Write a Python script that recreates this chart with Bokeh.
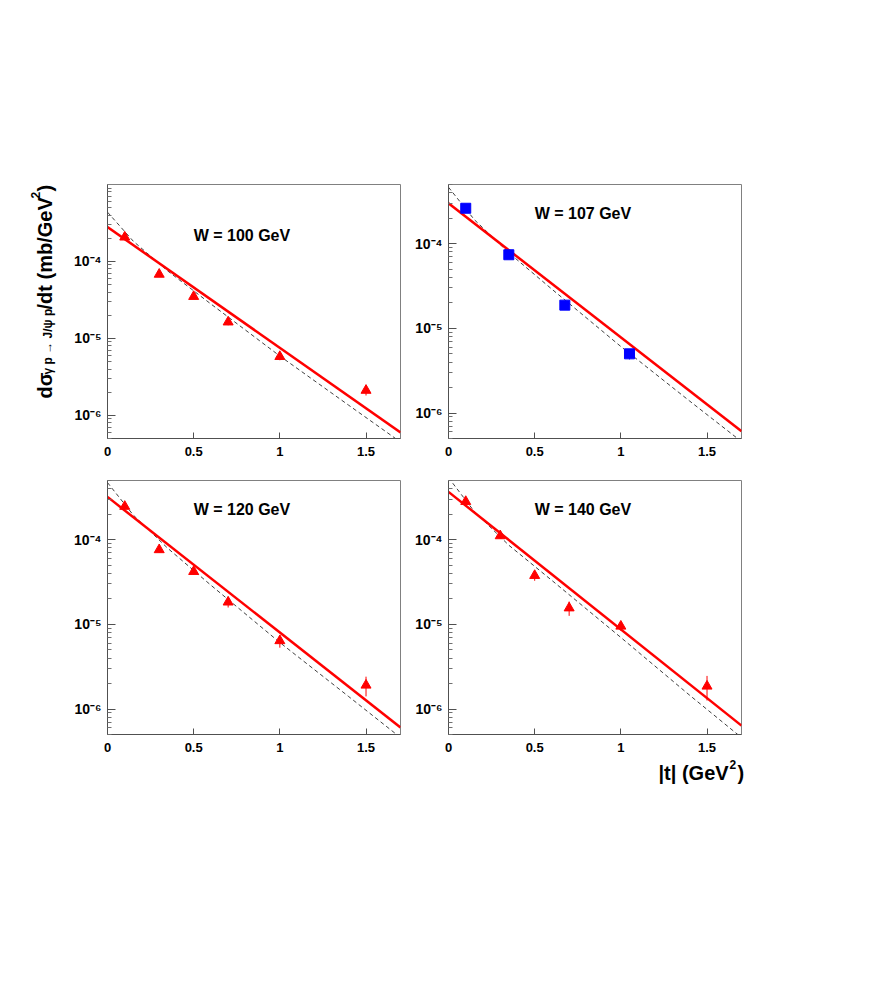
from bokeh.plotting import figure
from bokeh.layouts import column, row
from bokeh.models import FixedTicker, Label, Range1d
from bokeh.embed import file_html
from bokeh.resources import INLINE

# ---------------- data ----------------
t_tri = [0.1, 0.3, 0.5, 0.7, 1.0, 1.5]
t_sq = [0.1, 0.35, 0.675, 1.05]

w100_vals = [2.07e-4, 6.8e-5, 3.5e-5, 1.63e-5, 5.8e-6, 2.11e-6]
w100_errs = [1.5e-5, 5e-6, 2.5e-6, 1.5e-6, 6e-7, 3e-7]
w107_vals = [2.62e-4, 7.4e-5, 1.88e-5, 5.0e-6]
w107_errs = [1.2e-5, 4e-6, 1.8e-6, 7e-7]
w120_vals = [2.47e-4, 7.6e-5, 4.2e-5, 1.83e-5, 6.4e-6, 1.91e-6]
w120_errs = [1.8e-5, 6e-6, 3.5e-6, 2.5e-6, 1.1e-6, 5e-7]
w140_vals = [2.82e-4, 1.11e-4, 3.77e-5, 1.56e-5, 9.5e-6, 1.86e-6]
w140_errs = [2.0e-5, 9e-6, 5e-6, 3e-6, 1.1e-6, 6e-7]

# solid (red) straight fits: values at the two ends of the |t| range
fit_t = [0.0, 1.7]
red_w100 = [2.8e-4, 6.0e-7]
red_w107 = [3.0e-4, 6.1e-7]
red_w120 = [3.2e-4, 6.05e-7]
red_w140 = [3.67e-4, 6.37e-7]

# dashed (curved) model: values read at these |t|
dash_t = [0.0, 0.15, 0.35, 0.6, 1.0, 1.4, 1.7]
dash_w100 = [4.37e-4, 1.83e-4, 7.5e-5, 2.8e-5, 5.9e-6, 1.35e-6, 4.5e-7]
dash_w107 = [4.64e-4, 1.92e-4, 7.8e-5, 2.9e-5, 6.1e-6, 1.38e-6, 4.6e-7]
dash_w120 = [4.72e-4, 1.95e-4, 7.9e-5, 2.9e-5, 6.1e-6, 1.40e-6, 4.6e-7]
dash_w140 = [5.4e-4, 2.15e-4, 8.6e-5, 3.3e-5, 7.0e-6, 1.45e-6, 4.6e-7]

panel_titles = ["W = 100 GeV", "W = 107 GeV", "W = 120 GeV", "W = 140 GeV"]
title_pos_t = [0.5, 0.5, 0.5, 0.5]
title_pos_y = [2.2e-4, 2.25e-4, 2.3e-4, 2.25e-4]

y_ranges = [(5e-7, 1e-3), (5e-7, 5e-4), (5e-7, 5e-4), (5e-7, 5e-4)]
x_ticks = [0, 0.5, 1, 1.5]
x_tick_labels = ["0", "0.5", "1", "1.5"]
y_ticks = [1e-6, 1e-5, 1e-4]
y_tick_labels = ["10⁻⁶", "10⁻⁵", "10⁻⁴"]

# axis titles split in pieces: (text, font size, x, y) in strip pixels
ytitle_pieces = [("dσ", "20px", 44, 360),
                 ("γ p → J/ψ p", "12px", 47, 384),
                 ("/dt (mb/GeV", "20px", 44, 449),
                 ("2", "12px", 35, 560),
                 (")", "20px", 44, 567)]
xtitle_pieces = [("|t| (GeV", "20px", 658, 26),
                 ("2", "12px", 729, 34),
                 (")", "20px", 737, 26)]

FONT = "Liberation Sans"
RED = "#ff0000"
BLUE = "#0000ff"

y_minor = [k * 10.0 ** e for e in range(-7, -2) for k in range(2, 10)]


def make_panel(idx, vals, errs, tvals, marker, color, red, dash, borders):
    left, right, top, bottom = borders
    p = figure(frame_width=293, frame_height=254, y_axis_type="log",
               x_range=Range1d(0, 1.7), y_range=Range1d(*y_ranges[idx]),
               output_backend="svg", toolbar_location=None,
               min_border_left=left, min_border_right=right,
               min_border_top=top, min_border_bottom=bottom,
               background_fill_color="white", border_fill_color="white")
    p.xgrid.visible = False
    p.ygrid.visible = False
    p.outline_line_color = "#808080"
    p.outline_line_width = 1

    xa = p.xaxis[0]
    xa.ticker = FixedTicker(ticks=x_ticks)
    xa.major_label_overrides = {t: lab for t, lab in zip(x_ticks, x_tick_labels)}
    xa.major_tick_in = 6
    xa.major_tick_out = 0
    xa.minor_tick_line_color = None
    xa.axis_line_color = "#505050"
    xa.major_tick_line_color = "#505050"
    xa.major_label_standoff = 8
    xa.major_label_text_font = FONT
    xa.major_label_text_font_style = "bold"
    xa.major_label_text_font_size = "13px"
    xa.major_label_text_color = "black"

    ya = p.yaxis[0]
    ya.ticker = FixedTicker(ticks=y_ticks, minor_ticks=y_minor)
    ya.major_label_overrides = {t: lab for t, lab in zip(y_ticks, y_tick_labels)}
    ya.major_tick_in = 8
    ya.major_tick_out = 0
    ya.minor_tick_in = 4
    ya.minor_tick_out = 0
    ya.axis_line_color = "#505050"
    ya.major_tick_line_color = "#505050"
    ya.minor_tick_line_color = "#707070"
    ya.major_label_standoff = 6
    ya.major_label_text_font = FONT
    ya.major_label_text_font_style = "bold"
    ya.major_label_text_font_size = "14px"
    ya.major_label_text_color = "black"

    # fits
    p.line(dash_t, dash, line_color="#404040", line_width=1, line_dash="4 3")
    p.line(fit_t, red, line_color=RED, line_width=2.5)

    # data with error bars
    lo = [v - e for v, e in zip(vals, errs)]
    hi = [v + e for v, e in zip(vals, errs)]
    p.segment(x0=tvals, y0=lo, x1=tvals, y1=hi, line_color=color, line_width=1)
    p.scatter(tvals, vals, marker=marker, size=10, fill_color=color,
              line_color=color)

    p.add_layout(Label(x=title_pos_t[idx], y=title_pos_y[idx],
                       text=panel_titles[idx], text_font=FONT,
                       text_font_style="bold", text_font_size="16px",
                       text_align="left", text_baseline="middle",
                       text_color="black"))
    return p


def strip(w, h):
    s = figure(frame_width=w, frame_height=h, x_range=Range1d(0, w),
               y_range=Range1d(0, h), output_backend="svg",
               toolbar_location=None, min_border=0,
               x_axis_location=None, y_axis_location=None,
               outline_line_color=None, background_fill_color="white",
               border_fill_color="white")
    s.xgrid.visible = False
    s.ygrid.visible = False
    return s


p1 = make_panel(0, w100_vals, w100_errs, t_tri, "triangle", RED, red_w100,
                dash_w100, (41, 8, 184, 24))
p2 = make_panel(1, w107_vals, w107_errs, t_sq, "square", BLUE, red_w107,
                dash_w107, (40, 20, 184, 24))
p3 = make_panel(2, w120_vals, w120_errs, t_tri, "triangle", RED, red_w120,
                dash_w120, (41, 8, 18, 24))
p4 = make_panel(3, w140_vals, w140_errs, t_tri, "triangle", RED, red_w140,
                dash_w140, (40, 20, 18, 24))

# left strip with the rotated y-axis title
yt = strip(66, 758)
for txt, fs, sx, sy in ytitle_pieces:
    yt.add_layout(Label(x=sx, y=sy, text=txt, angle=1.5707963,
                        text_font=FONT, text_font_style="bold",
                        text_font_size=fs, text_align="left",
                        text_baseline="alphabetic", text_color="black"))

# bottom strip with the x-axis title
xt = strip(770, 40)
for txt, fs, sx, sy in xtitle_pieces:
    xt.add_layout(Label(x=sx, y=sy, text=txt, text_font=FONT,
                        text_font_style="bold", text_font_size=fs,
                        text_align="left", text_baseline="alphabetic",
                        text_color="black"))

grid = column(row(p1, p2), row(p3, p4))
layout = column(row(yt, grid), xt)

open("out.html", "w").write(file_html(layout, INLINE))
